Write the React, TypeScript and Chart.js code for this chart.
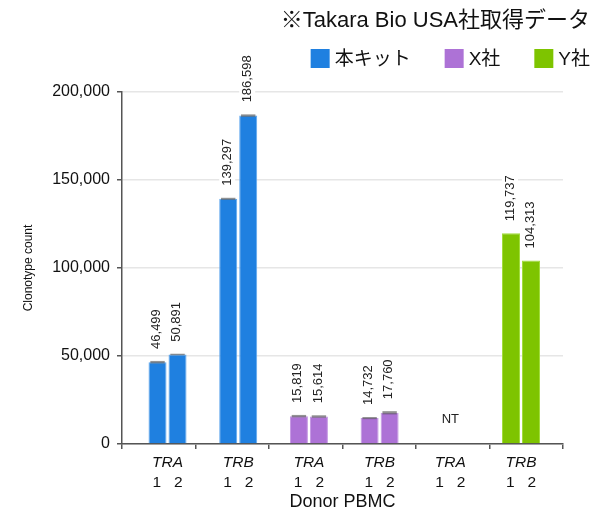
import { useEffect, useRef } from "react";
import { Chart, registerables } from "chart.js";

Chart.register(...registerables);

// ---- data ----
const geneLabels = ["TRA", "TRB", "TRA", "TRB", "TRA", "TRB"];
const donorLabels = ["1   2", "1   2", "1   2", "1   2", "1   2", "1   2"];
const donor1Values: (number | null)[] = [46499, 139297, 15819, 14732, null, 119737];
const donor2Values: (number | null)[] = [50891, 186598, 15614, 17760, null, 104313];
const donor1Errors = [700, 600, 700, 600, 0, 0];
const donor2Errors = [400, 700, 700, 900, 0, 0];
const kitOfCategory = [0, 0, 1, 1, 2, 2];
const kitLabels = ["本キット", "X社", "Y社"];
const kitColors = ["#1f80e0", "#ad72d6", "#7ec400"];
const kitEdgeColors = ["#5ea6ee", "#c497e3", "#a2dc3c"];
const yTickValues = [0, 50000, 100000, 150000, 200000];
const headerText = "※Takara Bio USA社取得データ";
const yAxisTitle = "Clonotype count";
const xAxisTitle = "Donor PBMC";
const notTestedText = "NT";

const FONT = '"Liberation Sans", Arial, "Noto Sans CJK JP", sans-serif';

const barColors = kitOfCategory.map((k) => kitColors[k]);
const barEdges = kitOfCategory.map((k) => kitEdgeColors[k]);
const errorsByDataset = [donor1Errors, donor2Errors];
const positions = geneLabels.map((_, i) => i);
const toPoints = (vals: (number | null)[]) => vals.map((v, i) => ({ x: positions[i], y: v }));

// bar positions are slightly compressed relative to the axis divisions in the original
const BAR_AXIS_MIN = -0.644;
const BAR_AXIS_MAX = 5.594;

const headerPlugin = {
  id: "headerPlugin",
  afterDraw(chart: any) {
    const ctx = chart.ctx as CanvasRenderingContext2D;
    ctx.save();
    const rightEdge = 590;
    ctx.font = `22px ${FONT}`;
    ctx.fillStyle = "#111";
    ctx.textAlign = "right";
    ctx.textBaseline = "middle";
    ctx.fillText(headerText, rightEdge, 21);
    ctx.font = `19px ${FONT}`;
    const box = 19;
    const gapBoxText = 5;
    const gapItems = 34;
    const widths = kitLabels.map((t) => ctx.measureText(t).width);
    const total =
      widths.reduce((a, w) => a + box + gapBoxText + w, 0) + gapItems * (kitLabels.length - 1);
    let x = rightEdge - total;
    const yTop = 49;
    ctx.textAlign = "left";
    kitLabels.forEach((t, i) => {
      ctx.fillStyle = kitColors[i];
      ctx.fillRect(x, yTop, box, box);
      ctx.fillStyle = "#111";
      ctx.fillText(t, x + box + gapBoxText, yTop + box / 2 + 1);
      x += box + gapBoxText + widths[i] + gapItems;
    });
    ctx.restore();
  },
};

const barLabelPlugin = {
  id: "barLabelPlugin",
  afterDatasetsDraw(chart: any) {
    const ctx = chart.ctx as CanvasRenderingContext2D;
    const yScale = chart.scales.y;
    const xScale = chart.scales.xg;
    ctx.save();
    chart.data.datasets.forEach((ds: any, di: number) => {
      const meta = chart.getDatasetMeta(di);
      meta.data.forEach((bar: any, i: number) => {
        const v = ds.data[i].y;
        if (v === null || v === undefined) return;
        const p = bar.getProps(["x", "y", "width"], true);
        const err = errorsByDataset[di][i];
        let top = p.y;
        if (err > 0) {
          const yHi = yScale.getPixelForValue(v + err);
          const yLo = yScale.getPixelForValue(v - err);
          ctx.fillStyle = "rgba(60,60,60,0.55)";
          const w = p.width * 0.8;
          ctx.fillRect(p.x - w / 2, yHi, w, Math.max(1.5, yLo - yHi));
          top = Math.min(top, yHi);
        }
        const label = v.toLocaleString("en-US");
        ctx.font = `13px ${FONT}`;
        const tw = ctx.measureText(label).width;
        ctx.save();
        ctx.translate(p.x - 1, top - 12);
        ctx.rotate(-Math.PI / 2);
        ctx.fillStyle = "#ffffff";
        ctx.fillRect(-2, -8, tw + 4, 16);
        ctx.fillStyle = "#222";
        ctx.textAlign = "left";
        ctx.textBaseline = "middle";
        ctx.fillText(label, 0, 0);
        ctx.restore();
      });
    });
    positions.forEach((pos, i) => {
      if (donor1Values[i] === null && donor2Values[i] === null) {
        ctx.font = `13px ${FONT}`;
        ctx.fillStyle = "#222";
        ctx.textAlign = "center";
        ctx.textBaseline = "middle";
        ctx.fillText(notTestedText, xScale.getPixelForValue(pos), chart.chartArea.bottom - 25);
      }
    });
    ctx.restore();
  },
};

export default function App() {
  const ref = useRef<HTMLCanvasElement>(null);
  useEffect(() => {
    document.body.style.margin = "0";
    if (!ref.current) return;
    const barDataset = (label: string, vals: (number | null)[]) => ({
      label,
      data: toPoints(vals),
      backgroundColor: barColors,
      borderColor: barEdges,
      borderWidth: 1,
      categoryPercentage: 0.566,
      barPercentage: 0.9,
      xAxisID: "xg",
    });
    const chart = new Chart(ref.current, {
      type: "bar",
      data: {
        datasets: [barDataset("Donor 1", donor1Values), barDataset("Donor 2", donor2Values)] as any,
      },
      options: {
        responsive: false,
        animation: false,
        layout: { padding: { left: 17, right: 44, top: 92, bottom: 0 } },
        plugins: {
          legend: { display: false },
          title: { display: false },
          tooltip: { enabled: false },
        },
        scales: {
          x: {
            type: "category",
            position: "bottom",
            weight: 0,
            labels: geneLabels,
            offset: true,
            afterFit: (s: any) => {
              s.height = 5;
            },
            grid: {
              offset: true,
              drawOnChartArea: false,
              drawTicks: true,
              tickLength: 5,
              color: "#555",
              lineWidth: 1.5,
            },
            border: { display: true, color: "#555", width: 1.5 },
            ticks: { display: false },
          },
          xg: {
            type: "linear",
            position: "bottom",
            weight: 1,
            min: BAR_AXIS_MIN,
            max: BAR_AXIS_MAX,
            offset: false,
            afterFit: (s: any) => {
              s.height = 23;
            },
            afterBuildTicks: (s: any) => {
              s.ticks = positions.map((v) => ({ value: v }));
            },
            grid: { display: false, drawTicks: false, offset: false },
            border: { display: false },
            ticks: {
              padding: 4,
              color: "#111",
              font: { family: FONT, size: 15.5, style: "italic" },
              maxRotation: 0,
              autoSkip: false,
              callback: (v: any) => geneLabels[Math.round(Number(v))] ?? "",
            },
          },
          xd: {
            type: "linear",
            position: "bottom",
            weight: 2,
            min: BAR_AXIS_MIN,
            max: BAR_AXIS_MAX,
            offset: false,
            afterFit: (s: any) => {
              s.height = 41;
            },
            afterBuildTicks: (s: any) => {
              s.ticks = positions.map((v) => ({ value: v }));
            },
            grid: { display: false, drawTicks: false, offset: false },
            border: { display: false },
            ticks: {
              padding: 1,
              color: "#111",
              font: { family: FONT, size: 15.5 },
              maxRotation: 0,
              autoSkip: false,
              callback: (v: any) => donorLabels[Math.round(Number(v))] ?? "",
            },
            title: {
              display: true,
              text: xAxisTitle,
              color: "#111",
              font: { family: FONT, size: 18 },
              padding: { top: 0, bottom: 0 },
            },
          },
          y: {
            min: 0,
            max: 200000,
            afterFit: (s: any) => {
              s.width = 105;
            },
            afterBuildTicks: (s: any) => {
              s.ticks = yTickValues.map((v) => ({ value: v }));
            },
            grid: {
              color: "#e6e6e6",
              lineWidth: 1.5,
              tickColor: "#555",
              tickLength: 5,
            },
            border: { display: true, color: "#555", width: 1.5 },
            ticks: {
              padding: 7,
              color: "#111",
              font: { family: FONT, size: 16 },
              callback: (v: any) => Number(v).toLocaleString("en-US"),
            },
            title: {
              display: true,
              text: yAxisTitle,
              color: "#111",
              font: { family: FONT, size: 12 },
              padding: { top: 4, bottom: 4 },
            },
          },
        },
      } as any,
      plugins: [barLabelPlugin, headerPlugin],
    });
    return () => chart.destroy();
  }, []);
  return (
    <div style={{ width: 607, height: 513 }}>
      <canvas ref={ref} width={607} height={513} style={{ display: "block" }} />
    </div>
  );
}
